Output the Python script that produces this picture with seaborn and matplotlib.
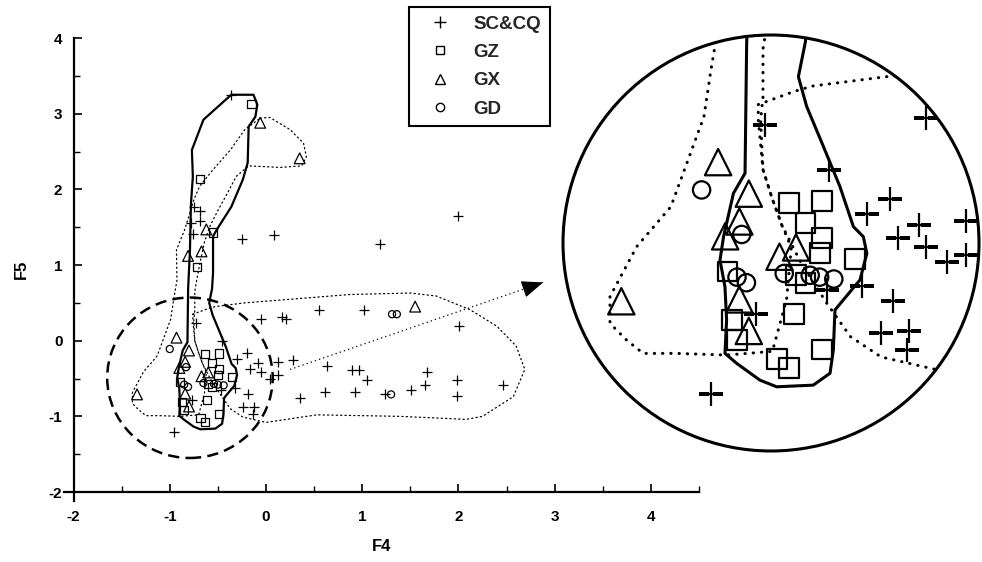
import numpy as np
import pandas as pd
import matplotlib
matplotlib.use("Agg")
import matplotlib.pyplot as plt
import seaborn as sns
from matplotlib.patches import Ellipse, Circle
from matplotlib.lines import Line2D

sns.set_theme(style="white")
plt.rcParams['font.family'] = ['Liberation Sans', 'DejaVu Sans']

# ---------------- data ----------------
groups = ["SC&CQ", "GZ", "GX", "GD"]

sccq_x = [-0.36, -0.75, -0.69, -0.78, -0.69, -0.76, -0.25, 0.08, 1.18, 2.00,
          -0.73, -0.05, 0.17, 0.21, 0.55, 1.02, 2.01, -0.46,
          -0.20, -0.30, -0.08, -0.17, -0.05, 0.12, 0.12, 0.04, -0.32, -0.19,
          -0.24, -0.12, -0.13, -0.96, -0.77, -0.47,
          0.28, 0.63, 0.89, 0.97, 1.05, 1.67, 1.65, 1.51, 1.98, 1.98, 2.46,
          0.35, 0.61, 0.93, 1.24]
sccq_y = [3.25, 1.77, 1.71, 1.55, 1.58, 1.41, 1.34, 1.39, 1.28, 1.65,
          0.24, 0.28, 0.31, 0.28, 0.41, 0.41, 0.20, 0.00,
          -0.16, -0.24, -0.30, -0.37, -0.42, -0.28, -0.46, -0.50, -0.63, -0.71,
          -0.88, -0.87, -0.97, -1.21, -0.78, -0.65,
          -0.26, -0.33, -0.39, -0.39, -0.52, -0.41, -0.58, -0.65, -0.52, -0.73, -0.58,
          -0.76, -0.68, -0.68, -0.70]

gz_x = [-0.15, -0.69, -0.55, -0.72, -0.63, -0.49, -0.56, -0.49, -0.50, -0.35,
        -0.89, -0.56, -0.61, -0.85, -0.68, -0.63, -0.49, -0.87, -0.60]
gz_y = [3.13, 2.14, 1.43, 0.97, -0.18, -0.17, -0.29, -0.37, -0.45, -0.48,
        -0.55, -0.61, -0.78, -0.92, -1.02, -1.07, -0.97, -0.81, -0.57]

gx_x = [-0.06, 0.35, -0.62, -0.81, -0.67, 1.55, -0.93, -0.80, -0.84, -0.90,
        -0.67, -0.60, -1.34, -0.84, -0.80]
gx_y = [2.88, 2.41, 1.47, 1.12, 1.18, 0.45, 0.04, -0.13, -0.28, -0.36,
        -0.47, -0.42, -0.71, -0.70, -0.87]

gd_x = [-1.00, -0.83, -0.85, -0.81, -0.65, -0.54, -0.44, -0.50, 1.31, 1.36, 1.30]
gd_y = [-0.11, -0.35, -0.58, -0.61, -0.56, -0.57, -0.59, -0.58, 0.35, 0.35, -0.71]

# hand-drawn outlines (data units)
gz_hull_x = [-0.36, -0.13, -0.09, -0.11, -0.18, -0.19, -0.24, -0.36, -0.51, -0.55, -0.55,
             -0.56, -0.59, -0.555, -0.484, -0.414, -0.357, -0.315, -0.30, -0.329, -0.40,
             -0.435, -0.442, -0.456, -0.527, -0.682, -0.753, -0.851, -0.901, -0.894,
             -0.901, -0.922, -0.907, -0.865, -0.816, -0.809, -0.79, -0.78, -0.76, -0.77,
             -0.65, -0.44]
gz_hull_y = [3.25, 3.25, 3.12, 2.96, 2.83, 2.35, 2.13, 1.77, 1.47, 1.38, 0.90,
             0.69, 0.50, 0.34, 0.124, -0.092, -0.308, -0.362, -0.452, -0.595, -0.703,
             -0.757, -0.973, -1.098, -1.162, -1.171, -1.135, -1.045, -0.991, -0.811,
             -0.632, -0.488, -0.362, -0.128, -0.02, 0.689, 1.20, 1.80, 2.17, 2.52,
             2.92, 3.16]

gx_hull_x = [-0.06, 0.04, 0.25, 0.39, 0.42, 0.37, 0.15, -0.18, -0.31, -0.40, -0.50,
             -0.58, -0.64, -0.69, -0.72, -0.74, -0.74, -0.75, -0.74, -0.70, -0.66,
             -0.62, -0.64, -0.70, -0.894, -1.106, -1.247, -1.318, -1.388, -1.388,
             -1.275, -1.13, -0.99, -0.96, -0.925, -0.93, -0.85, -0.80, -0.75, -0.69,
             -0.55, -0.37, -0.22]
gx_hull_y = [2.94, 2.95, 2.79, 2.61, 2.43, 2.31, 2.29, 2.31, 2.17, 1.95, 1.72,
             1.52, 1.30, 1.00, 0.80, 0.65, 0.39, 0.27, 0.00, -0.16, -0.30,
             -0.42, -0.70, -0.98, -1.00, -0.991, -0.991, -0.919, -0.829, -0.685,
             -0.416, -0.20, 0.285, 0.54, 0.80, 1.20, 1.45, 1.65, 1.86, 2.04,
             2.26, 2.52, 2.79]

sccq_hull_x = [-0.76, -0.61, -0.53, -0.22, 0.18, 0.87, 1.50, 1.77, 2.12, 2.40, 2.60,
               2.69, 2.57, 2.25, 2.08, 1.39, 0.53, 0.00, -0.24, -0.37, -0.47, -0.58,
               -0.66, -0.70, -0.74, -0.76]
sccq_hull_y = [0.35, 0.42, 0.45, 0.50, 0.54, 0.61, 0.63, 0.59, 0.41, 0.19, -0.07,
               -0.38, -0.74, -1.00, -1.04, -1.00, -0.98, -1.08, -1.01, -0.90, -0.72, -0.50,
               -0.30, -0.16, 0.00, 0.27]

zoom_center = (-0.79, -0.49)      # dashed circle
zoom_half = (0.86, 1.06)
inset_center = (-0.706, -0.396)   # magnified view
inset_half = (0.881, 1.121)
arrow_from = (0.25, -0.38)
arrow_to = (2.88, 0.77)

# ---------------- build frame ----------------
df = pd.concat([
    pd.DataFrame({"F4": sccq_x, "F5": sccq_y, "group": "SC&CQ"}),
    pd.DataFrame({"F4": gz_x, "F5": gz_y, "group": "GZ"}),
    pd.DataFrame({"F4": gx_x, "F5": gx_y, "group": "GX"}),
    pd.DataFrame({"F4": gd_x, "F5": gd_y, "group": "GD"}),
], ignore_index=True)

marker_of = {"SC&CQ": "+", "GZ": "s", "GX": "^", "GD": "o"}
size_of = {"SC&CQ": 50, "GZ": 34, "GX": 60, "GD": 26}


def draw_points(ax, mag, lw):
    for g in groups:
        sub = df[df["group"] == g]
        kw = dict(marker=marker_of[g], s=size_of[g] * mag ** 2, linewidth=lw, ax=ax, legend=False)
        if marker_of[g] == "+":
            sns.scatterplot(data=sub, x="F4", y="F5", color="black", **kw)
        else:
            sns.scatterplot(data=sub, x="F4", y="F5", facecolor="none", edgecolor="black", **kw)


def closed(xs, ys):
    return list(xs) + [xs[0]], list(ys) + [ys[0]]


def draw_hulls(ax, solid_lw, dot_lw, dot_pat):
    hx, hy = closed(gz_hull_x, gz_hull_y)
    ax.plot(hx, hy, color="black", lw=solid_lw, solid_joinstyle="round")
    for xs, ys in ((gx_hull_x, gx_hull_y), (sccq_hull_x, sccq_hull_y)):
        hx, hy = closed(xs, ys)
        ax.plot(hx, hy, color="black", lw=dot_lw, linestyle=(0, dot_pat),
                dash_capstyle="round")


fig = plt.figure(figsize=(9.82, 5.62), dpi=100)
fig.patch.set_facecolor("white")

ax = fig.add_axes([63.9 / 982, 1 - 501.1 / 562, 635.1 / 982, 463.1 / 562])
ax.set_facecolor("white")
draw_hulls(ax, 1.6, 0.9, (1, 2.5))
draw_points(ax, 1.0, 0.9)

ax.add_patch(Ellipse(zoom_center, 2 * zoom_half[0], 2 * zoom_half[1], fill=False,
                     ec="black", lw=1.8, linestyle=(0, (4.5, 2.5))))
# dotted arrow shaft + solid filled head
ax.plot([arrow_from[0], arrow_to[0]], [arrow_from[1], arrow_to[1]], color="black",
        lw=0.9, linestyle=(0, (1, 2.5)))
back = (arrow_to[0] - 0.02 * (arrow_to[0] - arrow_from[0]),
        arrow_to[1] - 0.02 * (arrow_to[1] - arrow_from[1]))
ax.annotate("", xy=arrow_to, xytext=back,
            arrowprops=dict(arrowstyle="-|>,head_length=0.75,head_width=0.3",
                            lw=0.8, color="black", mutation_scale=18,
                            shrinkA=0, shrinkB=0))

ax.set_xlim(-2.1, 4.5)
ax.set_ylim(-2.12, 4.0)
for s in ("top", "right"):
    ax.spines[s].set_visible(False)
for s in ("left", "bottom"):
    ax.spines[s].set_position(("data", -2))
    ax.spines[s].set_color("black")
    ax.spines[s].set_linewidth(1.6)
ax.set_xticks(np.arange(-2, 5, 1))
ax.set_xticks(np.arange(-2, 4.6, 0.5), minor=True)
ax.set_yticks(np.arange(-2, 5, 1))
ax.set_yticks(np.arange(-2, 4.1, 0.5), minor=True)
ax.set_xticklabels([str(v) for v in range(-2, 5)])
ax.set_yticklabels([str(v) for v in range(-2, 5)])
ax.tick_params(which="major", direction="in", length=6, width=1.2, colors="black",
               labelsize=11)
ax.tick_params(axis="x", which="major", pad=13)
ax.tick_params(axis="y", which="major", pad=8)
ax.tick_params(which="minor", direction="in", length=4, width=1.0, colors="black")
ax.tick_params(axis="both", which="both", bottom=True, left=True)
for lab in ax.get_xticklabels() + ax.get_yticklabels():
    lab.set_fontweight("bold")
ax.set_xlabel("F4", fontsize=12, fontweight="bold", labelpad=11, color="black")
ax.set_ylabel("F5", fontsize=12, fontweight="bold", labelpad=14, color="black")
ax.grid(False)

# ---------------- magnified inset ----------------
axi = fig.add_axes([563 / 982, 1 - 451 / 562, 416 / 982, 416 / 562])
axi.set_facecolor("none")
draw_hulls(axi, 2.2, 2.2, (0.1, 2.6))
draw_points(axi, 2.45, 1.6)
axi.set_xlim(inset_center[0] - inset_half[0], inset_center[0] + inset_half[0])
axi.set_ylim(inset_center[1] - inset_half[1], inset_center[1] + inset_half[1])
axi.axis("off")
clip = Circle((0.5, 0.5), 0.5, transform=axi.transAxes, fill=False, ec="black", lw=2.2)
axi.add_patch(clip)
clip.set_clip_on(False)
for art in list(axi.collections) + list(axi.lines):
    art.set_clip_path(clip)

# ---------------- legend ----------------
handles = [
    Line2D([], [], ls="none", marker="+", color="black", ms=8, mew=1.0),
    Line2D([], [], ls="none", marker="s", mfc="none", mec="black", ms=6, mew=1.0),
    Line2D([], [], ls="none", marker="^", mfc="none", mec="black", ms=7, mew=1.0),
    Line2D([], [], ls="none", marker="o", mfc="none", mec="black", ms=6, mew=1.0),
]
leg = fig.legend(handles, groups, loc="upper left", bbox_to_anchor=(409 / 982, 1 - 7 / 562),
                 bbox_transform=fig.transFigure, frameon=True, fancybox=False,
                 edgecolor="black", framealpha=1, borderaxespad=0, borderpad=0.45,
                 handlelength=2.4, handletextpad=0.6, labelspacing=0.6, numpoints=1,
                 prop={"weight": "bold", "size": 13.5})
leg.get_frame().set_linewidth(1.5)

fig.savefig("out.png", dpi=100, facecolor="white")
